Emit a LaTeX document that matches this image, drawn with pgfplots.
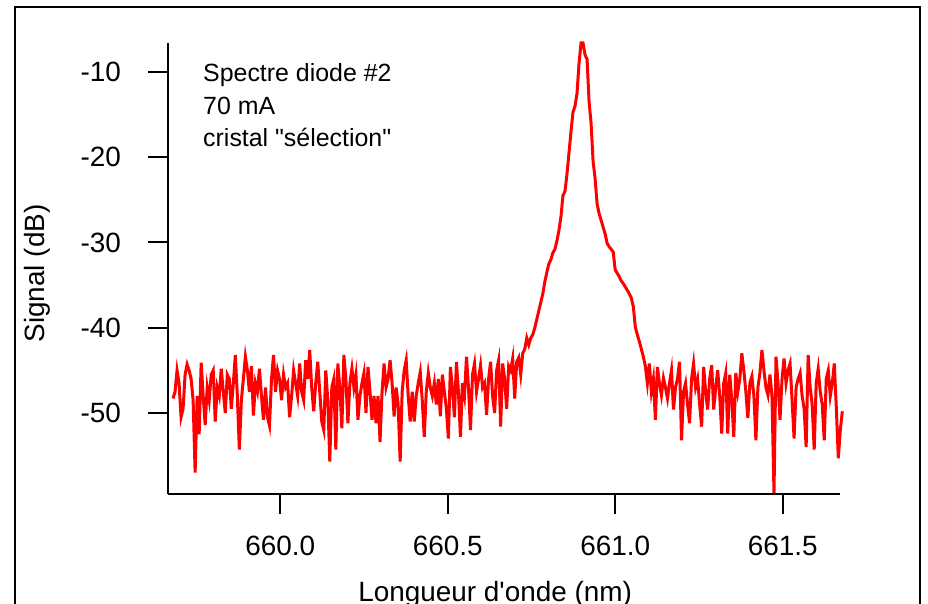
\documentclass[border=0pt]{standalone}
\usepackage{fontspec}
\setmainfont{Liberation Sans}[Ligatures=TeXOff]
\usepackage{pgfplots}
\pgfplotsset{compat=1.18}
\begin{document}
\begin{tikzpicture}[x=1bp,y=1bp]
\useasboundingbox (0,0) rectangle (928,604);
\clip (0,0) rectangle (928,604);
% outer frame
\draw[line width=2bp] (15,-20) rectangle (920,596.5);
\begin{axis}[
  at={(168bp,110bp)}, anchor=south west,
  scale only axis, width=672.3bp, height=451bp,
  xmin=659.665, xmax=661.672, ymin=-59.5, ymax=-6.6,
  axis x line=bottom, axis y line=left,
  axis line style={-, line width=2bp},
  tick align=outside, major tick length=20bp,
  major tick style={black, line width=2bp},
  xtick={660,660.5,661,661.5}, xticklabels={660.0,660.5,661.0,661.5},
  ytick={-50,-40,-30,-20,-10}, yticklabels={-50,-40,-30,-20,-10},
  xticklabel style={font=\fontsize{28}{30}\selectfont, anchor=north, inner sep=0pt, yshift=-22bp},
  yticklabel style={font=\fontsize{28}{30}\selectfont, anchor=east, inner sep=0pt, xshift=-27bp},
  xlabel={Longueur d'onde (nm)},
  ylabel={Signal (dB)},
  label style={font=\fontsize{28}{30}\selectfont, inner sep=0pt},
  xlabel style={at={(axis description cs:0.4866,-0.2373)}, anchor=base},
  ylabel style={at={(axis description cs:-0.183,0.489)}, anchor=base},
  clip=false,
]
\addplot[red, line width=3bp, mark=none] coordinates {
(659.680,-48.3)(659.686,-47.5)(659.692,-45.0)(659.698,-46.5)(659.704,-50.5)
(659.710,-49.5)(659.716,-45.5)(659.722,-44.3)(659.728,-45.0)(659.734,-46.0)
(659.740,-48.5)(659.746,-57.0)(659.752,-48.0)(659.758,-52.5)(659.764,-44.1)
(659.770,-48.0)(659.776,-51.4)(659.782,-47.0)(659.788,-48.5)(659.794,-45.5)
(659.800,-45.0)(659.806,-51.0)(659.812,-47.0)(659.818,-48.0)(659.824,-44.8)
(659.830,-47.5)(659.836,-50.0)(659.842,-45.5)(659.848,-46.0)(659.854,-49.5)
(659.860,-46.5)(659.866,-43.2)(659.872,-48.0)(659.878,-54.3)(659.884,-48.5)
(659.890,-46.0)(659.896,-43.4)(659.902,-45.0)(659.908,-47.5)(659.914,-44.5)
(659.920,-50.3)(659.926,-46.5)(659.932,-47.5)(659.938,-44.8)(659.944,-48.0)
(659.950,-50.8)(659.956,-47.0)(659.962,-50.5)(659.968,-51.5)(659.974,-46.0)
(659.980,-43.2)(659.986,-47.5)(659.992,-45.0)(659.998,-46.0)(660.004,-48.5)
(660.010,-45.5)(660.016,-47.0)(660.022,-46.5)(660.028,-50.5)(660.034,-48.0)
(660.040,-45.0)(660.046,-46.5)(660.052,-48.0)(660.058,-44.2)(660.064,-47.5)
(660.070,-48.5)(660.076,-43.8)(660.082,-46.0)(660.088,-42.6)(660.094,-47.0)
(660.100,-49.8)(660.106,-46.5)(660.112,-44.0)(660.118,-47.5)(660.124,-51.0)
(660.130,-52.0)(660.136,-45.0)(660.142,-48.5)(660.148,-55.7)(660.154,-47.0)
(660.160,-46.0)(660.166,-54.3)(660.172,-44.2)(660.178,-47.0)(660.184,-51.8)
(660.190,-43.2)(660.196,-46.0)(660.202,-51.2)(660.208,-46.5)(660.214,-44.8)
(660.220,-47.0)(660.226,-45.5)(660.232,-50.8)(660.238,-48.0)(660.244,-46.5)
(660.250,-45.3)(660.256,-50.0)(660.262,-44.6)(660.268,-47.5)(660.274,-50.8)
(660.280,-48.0)(660.286,-51.2)(660.292,-48.0)(660.298,-53.4)(660.304,-47.5)
(660.310,-44.2)(660.316,-47.0)(660.322,-46.0)(660.328,-43.8)(660.334,-46.5)
(660.340,-50.4)(660.346,-47.0)(660.352,-49.0)(660.358,-55.7)(660.364,-47.5)
(660.370,-45.0)(660.376,-43.8)(660.382,-48.0)(660.388,-51.0)(660.394,-47.5)
(660.400,-51.0)(660.406,-48.0)(660.412,-46.5)(660.418,-45.2)(660.424,-48.5)
(660.430,-52.8)(660.436,-47.5)(660.442,-45.3)(660.448,-47.0)(660.454,-48.0)
(660.460,-46.5)(660.466,-49.0)(660.472,-46.0)(660.478,-50.4)(660.484,-45.5)
(660.490,-47.5)(660.496,-49.5)(660.502,-53.0)(660.508,-44.6)(660.514,-47.0)
(660.520,-50.5)(660.526,-44.0)(660.532,-47.5)(660.538,-52.8)(660.544,-46.5)
(660.550,-48.0)(660.556,-43.4)(660.562,-47.0)(660.568,-52.0)(660.574,-45.5)
(660.580,-44.2)(660.586,-47.5)(660.592,-46.0)(660.598,-44.4)(660.604,-47.0)
(660.610,-46.5)(660.616,-50.2)(660.622,-46.0)(660.628,-44.0)(660.634,-48.0)
(660.640,-50.0)(660.646,-45.0)(660.652,-43.8)(660.658,-51.6)(660.664,-44.2)
(660.670,-46.0)(660.676,-49.5)(660.682,-44.5)(660.688,-45.0)(660.694,-43.6)
(660.700,-48.3)(660.706,-44.0)(660.712,-43.5)(660.718,-45.5)(660.724,-43.0)
(660.730,-42.5)(660.736,-41.2)(660.742,-42.0)(660.748,-41.2)(660.754,-40.8)
(660.760,-40.0)(660.766,-39.0)(660.772,-38.0)(660.778,-37.0)(660.784,-36.0)
(660.790,-34.6)(660.796,-33.5)(660.802,-32.5)(660.808,-32.0)(660.814,-31.2)
(660.820,-30.8)(660.826,-29.8)(660.832,-28.6)(660.838,-27.0)(660.844,-24.5)
(660.850,-24.0)(660.856,-22.0)(660.862,-19.5)(660.868,-17.0)(660.874,-14.7)
(660.880,-14.0)(660.886,-12.5)(660.892,-9.0)(660.898,-6.6)(660.904,-6.6)
(660.910,-8.0)(660.916,-8.5)(660.922,-13.5)(660.928,-16.0)(660.934,-20.5)
(660.940,-22.5)(660.946,-25.5)(660.952,-26.6)(660.958,-27.4)(660.964,-28.2)
(660.970,-29.0)(660.976,-30.1)(660.982,-30.5)(660.988,-30.8)(660.994,-31.1)
(661.000,-33.2)(661.006,-33.6)(661.012,-34.0)(661.018,-34.5)(661.024,-34.8)
(661.030,-35.2)(661.036,-35.6)(661.042,-36.0)(661.048,-36.5)(661.054,-37.5)
(661.060,-39.9)(661.066,-40.8)(661.072,-41.6)(661.078,-42.5)(661.084,-43.4)
(661.090,-44.5)(661.096,-46.5)(661.102,-44.2)(661.108,-47.5)(661.114,-46.0)
(661.120,-50.8)(661.126,-44.6)(661.132,-46.5)(661.138,-47.9)(661.144,-45.9)
(661.150,-47.0)(661.156,-48.3)(661.162,-46.5)(661.168,-45.0)(661.174,-49.6)
(661.180,-47.0)(661.186,-46.0)(661.192,-44.0)(661.198,-53.2)(661.204,-47.5)
(661.210,-46.5)(661.216,-49.0)(661.222,-51.2)(661.228,-46.0)(661.234,-44.2)
(661.240,-47.0)(661.246,-46.0)(661.252,-49.0)(661.258,-51.6)(661.264,-44.6)
(661.270,-47.5)(661.276,-49.6)(661.282,-46.0)(661.288,-44.4)(661.294,-49.6)
(661.300,-47.0)(661.306,-45.0)(661.312,-48.0)(661.318,-52.4)(661.324,-46.5)
(661.330,-45.3)(661.336,-52.4)(661.342,-45.5)(661.348,-48.5)(661.354,-52.8)
(661.360,-45.3)(661.366,-47.5)(661.372,-46.0)(661.378,-43.0)(661.384,-45.0)
(661.390,-47.5)(661.396,-50.6)(661.402,-46.5)(661.408,-45.7)(661.414,-48.0)
(661.420,-53.2)(661.426,-47.0)(661.432,-45.3)(661.438,-42.6)(661.444,-45.0)
(661.450,-47.0)(661.456,-47.9)(661.462,-45.5)(661.468,-48.0)(661.474,-59.4)
(661.480,-43.4)(661.486,-46.5)(661.492,-50.8)(661.498,-46.0)(661.504,-43.6)
(661.510,-46.5)(661.516,-45.0)(661.522,-44.2)(661.528,-48.5)(661.534,-53.0)
(661.540,-47.0)(661.546,-46.0)(661.552,-45.3)(661.558,-48.0)(661.564,-49.5)
(661.570,-54.0)(661.576,-43.2)(661.582,-47.0)(661.588,-49.0)(661.594,-54.3)
(661.600,-46.5)(661.606,-44.8)(661.612,-47.5)(661.618,-49.0)(661.624,-53.2)
(661.630,-46.0)(661.636,-45.0)(661.642,-48.0)(661.648,-46.5)(661.654,-44.2)
(661.660,-49.3)(661.666,-55.3)(661.672,-52.0)(661.678,-49.8)
};
\node[anchor=base west, inner sep=0pt, font=\fontsize{25}{30}\selectfont] at (rel axis cs:0.0521,0.9157) {Spectre diode \#2};
\node[anchor=base west, inner sep=0pt, font=\fontsize{25}{30}\selectfont] at (rel axis cs:0.0521,0.8404) {70 mA};
\node[anchor=base west, inner sep=0pt, font=\fontsize{25}{30}\selectfont] at (rel axis cs:0.0521,0.7694) {cristal "sélection"};
\end{axis}
\end{tikzpicture}
\end{document}
